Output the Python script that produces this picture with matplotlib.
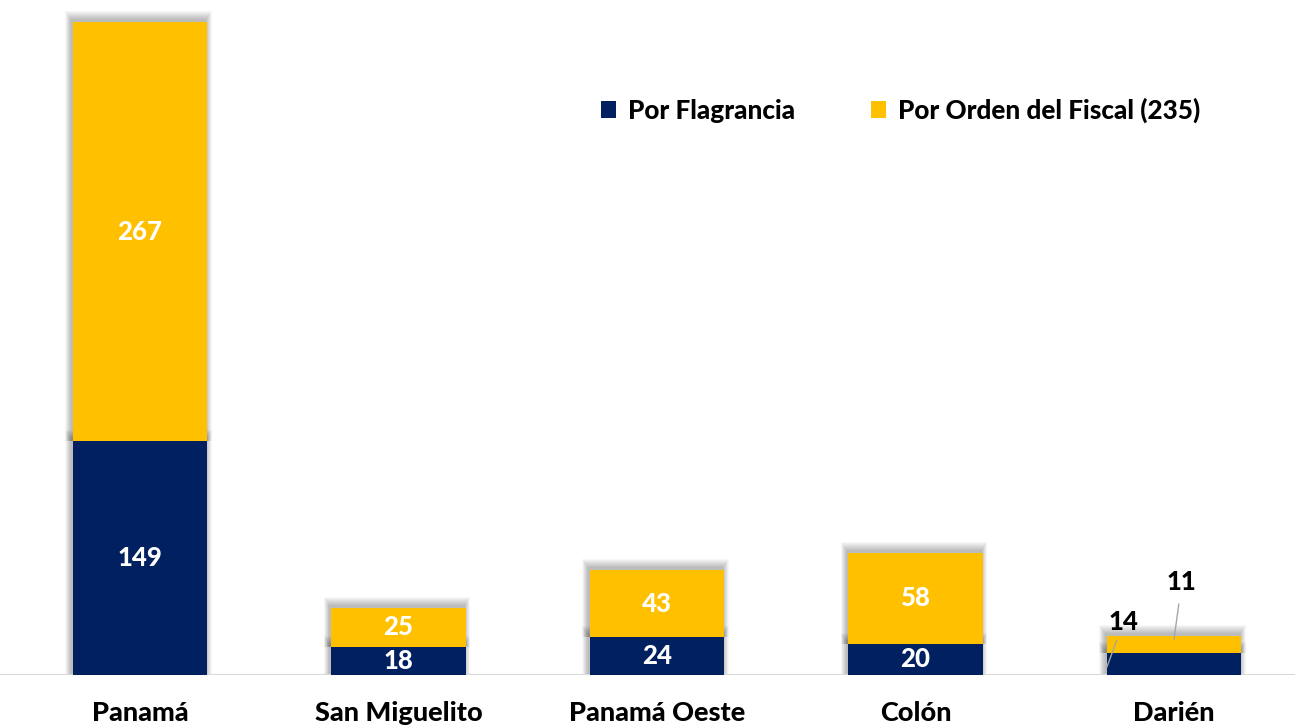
import matplotlib
matplotlib.use("Agg")
import matplotlib.pyplot as plt
import numpy as np

regions = ["Panamá", "San Miguelito", "Panamá Oeste", "Colón", "Darién"]
flagrancia = [149, 18, 24, 20, 14]
orden_fiscal = [267, 25, 43, 58, 11]
legend_labels = ["Por Flagrancia", "Por Orden del Fiscal (235)"]

NAVY = "#002060"
GOLD = "#FFC000"

plt.rcParams["font.family"] = ["Lato", "DejaVu Sans"]
W = "black"

fig = plt.figure(figsize=(12.95, 7.25), dpi=100)
ax = fig.add_axes([0, 50 / 725, 1, 675 / 725])

x = np.arange(len(regions))
width = 0.52
ax.set_xlim(-0.5416, 4.468)
ax.set_ylim(0, 430)

# pixel size in data units (for the soft shadow)
px_x = (4.468 + 0.5416) / 1295
px_y = 430 / 675

flag = np.array(flagrancia)
orden = np.array(orden_fiscal)

# soft shadow behind each segment
for bottom, height in [(np.zeros_like(flag), flag), (flag, orden)]:
    for k in range(9, 0, -1):
        ax.bar(x - 1.5 * px_x, height + (2 + k) * px_y, bottom=bottom,
               width=width + 1.3 * k * px_x, color="black", alpha=0.03,
               zorder=1, linewidth=0)

ax.bar(x, flag, width=width, color=NAVY, zorder=3, label=legend_labels[0])
ax.bar(x, orden, width=width, bottom=flag, color=GOLD, zorder=3,
       label=legend_labels[1])

for i in range(len(regions)):
    f, o = flagrancia[i], orden_fiscal[i]
    if f + o > 30:
        ax.text(x[i], f / 2, str(f), ha="center", va="center", color="white",
                fontsize=18.5, fontweight=W, zorder=4)
        ax.text(x[i], f + o / 2, str(o), ha="center", va="center", color="white",
                fontsize=18.5, fontweight=W, zorder=4)
    else:
        # small bar: labels outside with leader lines
        ax.annotate(str(f), xy=(x[i] - width / 2, f * 0.35),
                    xytext=(x[i] - width / 2 + 0.065, f + o + 9),
                    ha="center", va="center", fontsize=18.5, fontweight=W,
                    arrowprops=dict(arrowstyle="-", color="#A6A6A6", lw=1,
                                    shrinkA=3, shrinkB=0), zorder=4)
        ax.annotate(str(o), xy=(x[i], f + o * 0.8),
                    xytext=(x[i] + 0.03, f + o + 34),
                    ha="center", va="center", fontsize=18.5, fontweight=W,
                    arrowprops=dict(arrowstyle="-", color="#A6A6A6", lw=1,
                                    shrinkA=5, shrinkB=0), zorder=4)

ax.axhline(0, color="#D9D9D9", lw=1.5, zorder=2)
for s in ax.spines.values():
    s.set_visible(False)
ax.set_yticks([])
ax.set_xticks(x)
ax.set_xticklabels(regions, fontsize=19.5, fontweight=W)
ax.tick_params(axis="x", length=0, pad=19)

leg = ax.legend(loc="upper left", bbox_to_anchor=(577 / 1295, 1 - 74 / 675), ncol=2,
                frameon=False, fontsize=18.8, handlelength=0.6, handleheight=0.6,
                columnspacing=2.9, handletextpad=0.45)
for t in leg.get_texts():
    t.set_fontweight(W)

fig.savefig("out.png", dpi=100)
